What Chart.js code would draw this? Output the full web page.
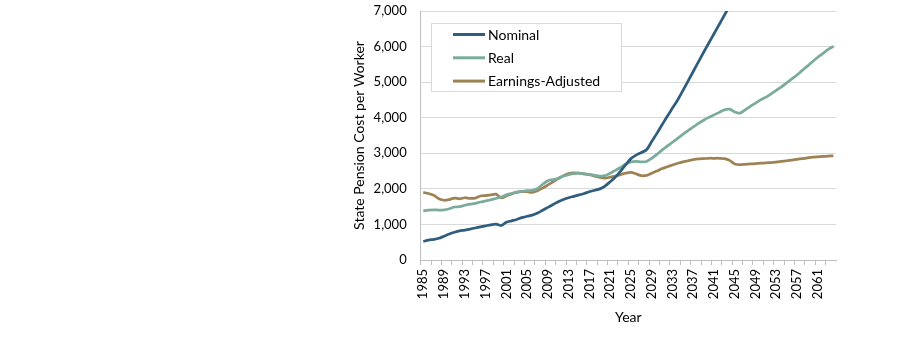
<!DOCTYPE html>
<html>
<head>
<meta charset="utf-8">
<title>State Pension Cost per Worker</title>
<script src="https://cdn.jsdelivr.net/npm/chart.js@4.4.1/dist/chart.umd.min.js"></script>
<style>
  html, body { margin: 0; padding: 0; background: #fff; }
  #wrap { width: 909px; height: 337px; position: relative; }
</style>
</head>
<body>
<div id="wrap"><canvas id="pensionChart"></canvas></div>
<script>
// Years 1985–2064, one category each
const YEARS = Array.from({ length: 80 }, (_, i) => String(1985 + i));

// Cost per worker, by year
const NOMINAL = [
  520, 560, 580, 610, 670, 730, 780, 820, 840, 870,
  900, 930, 960, 990, 1010, 970, 1060, 1100, 1140, 1190,
  1230, 1260, 1320, 1400, 1480, 1560, 1640, 1700, 1750, 1790,
  1830, 1870, 1920, 1960, 2000, 2080, 2200, 2330, 2500, 2680,
  2850, 2950, 3020, 3100, 3330, 3560, 3800, 4040, 4270, 4500,
  4760, 5030, 5300, 5570, 5840, 6100, 6360, 6620, 6880, 7140,
  7400, 7660, 7920, 8190, 8460, 8740, 9020, 9310, 9600, 9900,
  10200, 10510, 10820, 11140, 11470, 11800, 12140, 12490, 12850, 13210
];
const REAL = [
  1380, 1400, 1410, 1405, 1410, 1440, 1490, 1500, 1540, 1570,
  1590, 1630, 1660, 1690, 1730, 1770, 1830, 1870, 1910, 1930,
  1950, 1960, 2010, 2130, 2230, 2260, 2300, 2360, 2400, 2430,
  2440, 2420, 2400, 2380, 2360, 2370, 2440, 2520, 2600, 2700,
  2760, 2770, 2760, 2770, 2860, 2970, 3090, 3200, 3310, 3420,
  3530, 3640, 3740, 3840, 3930, 4010, 4080, 4150, 4220, 4240,
  4160, 4130, 4220, 4320, 4410, 4500, 4580, 4670, 4770, 4870,
  4980, 5090, 5200, 5330, 5450, 5580, 5700, 5810, 5920, 6010
];
const EARNINGS_ADJ = [
  1900, 1870, 1820, 1720, 1680, 1700, 1740, 1720, 1750, 1730,
  1740, 1800, 1810, 1830, 1850, 1750, 1800, 1860, 1900, 1920,
  1920, 1900, 1950, 2020, 2110, 2200, 2290, 2370, 2430, 2450,
  2440, 2420, 2400, 2360, 2320, 2300, 2330, 2360, 2400, 2440,
  2460, 2420, 2370, 2380, 2440, 2500, 2570, 2620, 2670, 2720,
  2760, 2790, 2820, 2840, 2850, 2860, 2860, 2860, 2850, 2800,
  2700, 2680, 2690, 2700, 2710, 2720, 2730, 2740, 2750, 2770,
  2790, 2810, 2830, 2850, 2870, 2890, 2900, 2910, 2920, 2930
];

const Y_MAX = 7000;
const Y_STEP = 1000;

const C_NOMINAL = '#2f5d7e';
const C_REAL    = '#7aab9c';
const C_EARN    = '#9d8354';
const GRID      = '#d9d9d9';
const AXIS      = '#bfbfbf';
const FONT      = 'Lato, "Open Sans", sans-serif';

// boxed legend sitting inside the plot, top-left
const boxedLegend = {
  id: 'boxedLegend',
  afterDatasetsDraw(chart) {
    const ctx = chart.ctx;
    const bx = 431.5, by = 23.5, bw = 190, bh = 68;
    ctx.save();
    ctx.fillStyle = '#fff';
    ctx.fillRect(bx, by, bw, bh);
    ctx.strokeStyle = GRID;
    ctx.lineWidth = 1;
    ctx.strokeRect(bx, by, bw, bh);
    chart.data.datasets.forEach((ds, i) => {
      const ly = 34.5 + i * 23.3;
      ctx.strokeStyle = ds.borderColor;
      ctx.lineWidth = 3;
      ctx.beginPath();
      ctx.moveTo(453, ly);
      ctx.lineTo(485, ly);
      ctx.stroke();
      ctx.fillStyle = '#000';
      ctx.font = '14px ' + FONT;
      ctx.textBaseline = 'middle';
      ctx.fillText(ds.label, 488, ly + 0.5);
    });
    ctx.restore();
  }
};

const lineStyle = (color) => ({
  borderColor: color,
  backgroundColor: color,
  borderWidth: 2.75,
  pointRadius: 0,
  pointHoverRadius: 0,
  tension: 0.3,
  fill: false,
});

new Chart(document.getElementById('pensionChart'), {
  type: 'line',
  data: {
    labels: YEARS,
    datasets: [
      { label: 'Nominal', data: NOMINAL, ...lineStyle(C_NOMINAL) },
      { label: 'Real', data: REAL, ...lineStyle(C_REAL) },
      { label: 'Earnings-Adjusted', data: EARNINGS_ADJ, ...lineStyle(C_EARN) },
    ]
  },
  plugins: [boxedLegend],
  options: {
    responsive: true,
    maintainAspectRatio: false,
    animation: false,
    layout: { padding: { left: 347, right: 73, top: 11, bottom: 7 } },
    plugins: {
      legend: { display: false },
      tooltip: { enabled: false }
    },
    scales: {
      x: {
        offset: true,
        afterFit(scale) {
          scale.height = 70;
          scale.paddingLeft = 0;
          scale.paddingRight = 0;
        },
        grid: {
          offset: true,
          drawOnChartArea: true,
          color: (c) => c.index === YEARS.length ? GRID : 'rgba(0,0,0,0)',
          tickColor: (c) => c.index % 2 === 0 ? AXIS : 'rgba(0,0,0,0)',
          tickLength: 5,
        },
        border: { color: AXIS, width: 1 },
        ticks: {
          autoSkip: false,
          maxRotation: 90,
          minRotation: 90,
          padding: 4,
          color: '#000',
          font: { family: FONT, size: 13 },
          callback: (v, i) => i % 4 === 0 ? YEARS[i] : '',
        },
        title: {
          display: true,
          text: 'Year',
          color: '#000',
          font: { family: FONT, size: 14 },
        }
      },
      y: {
        min: 0,
        max: Y_MAX,
        afterFit(scale) {
          scale.width = 73.7;
          scale.paddingTop = 0;
          scale.paddingBottom = 0;
        },
        grid: { color: GRID, drawTicks: false },
        border: { color: AXIS, width: 1 },
        ticks: {
          stepSize: Y_STEP,
          padding: 14,
          color: '#000',
          font: { family: FONT, size: 13 },
          callback: (v) => v.toLocaleString('en-US'),
        },
        title: {
          display: true,
          text: 'State Pension Cost per Worker',
          color: '#000',
          font: { family: FONT, size: 14 },
        }
      }
    }
  }
});
</script>
</body>
</html>
